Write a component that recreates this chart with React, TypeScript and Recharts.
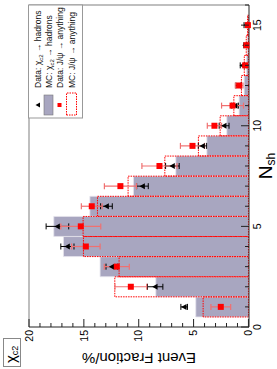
import { ComposedChart, Bar, Scatter, ErrorBar, XAxis, YAxis, ReferenceLine } from 'recharts';

// N_sh bins (centred on integers)
const nsh = [1, 2, 3, 4, 5, 6, 7, 8, 9, 10, 11, 12, 13, 14, 15];
// MC: chi_c2 -> hadrons (filled)
const mcChic2 = [4.8, 8.44, 13.52, 16.86, 17.74, 14.45, 10.48, 6.62, 3.79, 1.97, 0.85, 0.39, 0.18, 0.1, 0.05];
// MC: J/psi -> anything (dotted outline)
const mcJpsi = [4.13, 12.18, 11.79, 15.04, 15.07, 13.76, 10.97, 7.62, 4.56, 2.58, 1.33, 0.64, 0.38, 0.2, 0.08];
// Data: chi_c2 -> hadrons
const dataChic2 = [5.86, 8.5, 12.45, 16.5, 17.41, 12.94, 9.66, 6.93, 4.19, 2.22, 1.22, 0.9, 0.55, 0.3, 0.2];
const dataChic2Err = [0.3, 0.7, 0.53, 0.6, 1.03, 0.53, 0.53, 0.62, 0.38, 0.45, 0.3, 0.25, 0.2, 0.12, 0.2];
// Data: J/psi -> anything
const dataJpsi = [2.52, 10.72, 12.0, 14.82, 15.28, 14.28, 11.67, 8.11, 5.1, 3.1, 1.45, 0.85, 0.3, 0.18, 0.05];
const dataJpsiErr = [0.9, 1.45, 1.14, 1.3, 1.82, 0.95, 1.46, 1.6, 1.1, 0.65, 1.0, 0.35, 0.15, 0.1, 0.1];

const xTicks = [0, 1, 2, 3, 4, 5, 6, 7, 8, 9, 10, 11, 12, 13, 14, 15, 16];
const yTicks = [0, 1, 2, 3, 4, 5, 6, 7, 8, 9, 10, 11, 12, 13, 14, 15, 16, 17, 18, 19, 20];

const rows = nsh.map((n, i) => ({
  n,
  mcChic2: mcChic2[i],
  mcJpsi: mcJpsi[i],
  dataChic2: dataChic2[i],
  dataChic2Err: dataChic2Err[i],
  dataJpsi: dataJpsi[i],
  dataJpsiErr: dataJpsiErr[i],
}));

const FONT = '"Liberation Sans", Arial, Helvetica, sans-serif';
const BAR_FILL = '#a8a6c0';
const RED = '#ff0000';

function ValueTick(props: any) {
  const { x, y, payload } = props;
  const v = payload.value;
  const major = v % 5 === 0;
  const ax = x + 3;
  return (
    <g>
      <line x1={ax} y1={y} x2={ax + (major ? 8 : 4)} y2={y} stroke="#222" />
      {major && (
        <text x={x} y={y} dy="0.35em" textAnchor="end" fontSize={10.5} fontFamily={FONT} fill="#000">
          {v}
        </text>
      )}
    </g>
  );
}

function NshTick(props: any) {
  const { x, y, payload } = props;
  const v = payload.value;
  const major = v % 5 === 0;
  const ay = y - 5;
  return (
    <g>
      <line x1={x} y1={ay} x2={x} y2={ay - (major ? 8 : 4)} stroke="#222" />
      {major && (
        <text x={x} y={y} dy="0.71em" textAnchor="middle" fontSize={10.5} fontFamily={FONT} fill="#000">
          {v}
        </text>
      )}
    </g>
  );
}

const Triangle = (p: any) => {
  const { cx, cy } = p;
  if (cx == null || cy == null) return null;
  const s = 3;
  return <polygon points={`${cx},${cy - s} ${cx - s},${cy + s * 0.8} ${cx + s},${cy + s * 0.8}`} fill="#000" />;
};

const Square = (p: any) => {
  const { cx, cy } = p;
  if (cx == null || cy == null) return null;
  return <rect x={cx - 3} y={cy - 3} width={6} height={6} fill={RED} />;
};

function Overlay() {
  const rowY = [38, 48.5, 59.5, 71.5];
  const tx = 281;
  return (
    <svg width={369} height={277} style={{ position: 'absolute', left: 0, top: 0, pointerEvents: 'none' }}>
      {/* legend */}
      <rect x={251} y={28.5} width={113} height={54} fill="#fff" stroke="#999" />
      <polygon points={`264,${rowY[0] - 2.5} 261.5,${rowY[0] + 2} 266.5,${rowY[0] + 2}`} fill="#000" />
      <rect x={254} y={rowY[1] - 4.5} width={20} height={9} fill={BAR_FILL} stroke="#777" strokeWidth={0.6} />
      <rect x={262} y={rowY[2] - 2} width={4} height={4} fill={RED} />
      <rect x={254} y={rowY[3] - 5} width={22} height={10} fill="none" stroke={RED} strokeDasharray="1.5 1" />
      <g fontFamily={FONT} fontSize={8.5} fill="#111">
        <text x={tx} y={rowY[0] + 3}>
          Data: χ<tspan fontSize={6} dy={2}>c2</tspan>
          <tspan dy={-2}> → hadrons</tspan>
        </text>
        <text x={tx} y={rowY[1] + 3}>
          MC: χ<tspan fontSize={6} dy={2}>c2</tspan>
          <tspan dy={-2}> → hadrons</tspan>
        </text>
        <text x={tx} y={rowY[2] + 3}>Data: J/ψ → anything</text>
        <text x={tx} y={rowY[3] + 3}>MC: J/ψ → anything</text>
      </g>
      {/* process tag */}
      <rect x={2.5} y={3.5} width={28} height={17} fill="#fff" stroke="#888" />
      <text x={6} y={16} fontFamily={FONT} fontSize={15} fill="#000">
        χ<tspan fontSize={9} dy={2}>c2</tspan>
      </text>
      {/* axis titles */}
      <text
        x={16}
        y={139}
        transform="rotate(-90, 16, 139)"
        textAnchor="middle"
        fontFamily={FONT}
        fontSize={15}
        fill="#000"
      >
        Event Fraction/%
      </text>
      <text x={203} y={272} textAnchor="middle" fontFamily={FONT} fontSize={19} fill="#000">
        N<tspan fontSize={12} dy={3}>sh</tspan>
      </text>
    </svg>
  );
}

export default function App() {
  return (
    <div style={{ position: 'absolute', left: 0, top: 0, width: 277, height: 369, overflow: 'hidden', background: '#fff' }}>
      <div
        style={{
          position: 'absolute',
          left: 0,
          top: 0,
          width: 369,
          height: 277,
          transformOrigin: '0 0',
          transform: 'translate(0px, 369px) rotate(-90deg)',
        }}
      >
        <ComposedChart
          width={369}
          height={277}
          data={rows}
          margin={{ top: 29, right: 5, bottom: 0, left: 0 }}
          barCategoryGap={0}
          barGap={0}
        >
          <XAxis
            xAxisId="a"
            dataKey="n"
            type="number"
            domain={[0, 16]}
            ticks={xTicks}
            interval={0}
            height={28}
            tickSize={0}
            tickMargin={5}
            tick={<NshTick />}
            axisLine={{ stroke: '#222' }}
            tickLine={false}
          />
          <XAxis xAxisId="b" dataKey="n" type="number" domain={[0, 16]} ticks={xTicks} hide />
          <YAxis
            type="number"
            domain={[0, 20]}
            ticks={yTicks}
            interval={0}
            width={42}
            tickSize={0}
            tickMargin={3}
            tick={<ValueTick />}
            axisLine={{ stroke: '#222' }}
            tickLine={false}
          />
          <ReferenceLine xAxisId="a" y={20} stroke="#aaa" strokeWidth={1.5} />
          <ReferenceLine xAxisId="a" x={16} stroke="#aaa" strokeWidth={1.5} />
          <Bar
            xAxisId="a"
            dataKey="mcChic2"
            fill={BAR_FILL}
            stroke="#e4e2ec"
            strokeWidth={0.8}
            isAnimationActive={false}
          />
          <Bar
            xAxisId="b"
            dataKey="mcJpsi"
            fill="none"
            stroke={RED}
            strokeWidth={1}
            strokeDasharray="1.5 1"
            isAnimationActive={false}
          />
          <Scatter xAxisId="a" dataKey="dataChic2" shape={Triangle} isAnimationActive={false}>
            <ErrorBar dataKey="dataChic2Err" direction="y" width={3} stroke="#000" strokeWidth={1} />
          </Scatter>
          <Scatter xAxisId="a" dataKey="dataJpsi" shape={Square} isAnimationActive={false}>
            <ErrorBar dataKey="dataJpsiErr" direction="y" width={3} stroke="#f07070" strokeWidth={1.2} />
          </Scatter>
        </ComposedChart>
        <Overlay />
      </div>
    </div>
  );
}
